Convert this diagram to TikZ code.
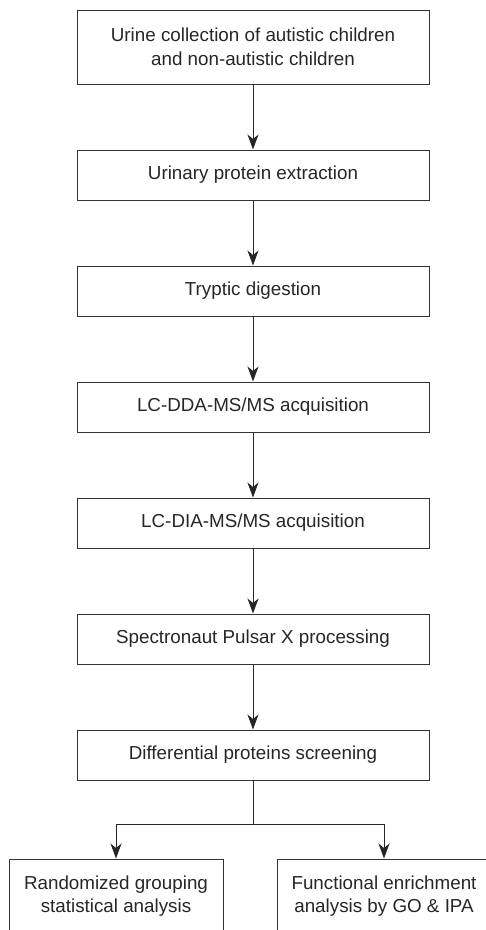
\documentclass[tikz,border=0pt]{standalone}
\usepackage{fontspec}
\setmainfont{Liberation Sans}
\usetikzlibrary{positioning,arrows.meta}

\begin{document}
\begin{tikzpicture}[node distance = 65pt, x=1pt, y=1pt,
    box/.style={draw=black!80, line width=1pt, text=black!85, align=center,
      minimum width=352pt, minimum height=50pt, inner sep=0pt,
      font=\fontsize{18.8}{23.5}\selectfont},
    sidebox/.style={box, minimum width=214pt, minimum height=74pt},
    arr/.style={draw=black!85, line width=1pt, -{Stealth[length=15pt,width=11pt,inset=4.5pt]}}]
  \useasboundingbox (0,0) rectangle (486,-930);
  \node[box, minimum height=74pt] (urine) at (253,-47) {Urine collection of autistic children\\and non-autistic children};
  \node[box] (extract) [below=of urine] {Urinary protein extraction};
  \node[box] (digest) [below=of extract] {Tryptic digestion};
  \node[box] (dda) [below=of digest] {LC-DDA-MS/MS acquisition};
  \node[box] (dia) [below=of dda] {LC-DIA-MS/MS acquisition};
  \node[box] (pulsar) [below=of dia] {Spectronaut Pulsar X processing};
  \node[box] (screen) [below=of pulsar] {Differential proteins screening};
  \coordinate[below=44pt of screen] (split);
  \node[sidebox] (stats) at (116,-896) {Randomized grouping\\statistical analysis};
  \node[sidebox] (enrich) at (384,-896) {Functional enrichment\\analysis by GO \& IPA};
  \draw [arr] (urine) -- (extract);
  \draw [arr] (extract) -- (digest);
  \draw [arr] (digest) -- (dda);
  \draw [arr] (dda) -- (dia);
  \draw [arr] (dia) -- (pulsar);
  \draw [arr] (pulsar) -- (screen);
  \draw [line width=1pt, draw=black!85] (screen) -- (split);
  \draw [arr] (split) -| (stats);
  \draw [arr] (split) -| (enrich);
\end{tikzpicture}
\end{document}
